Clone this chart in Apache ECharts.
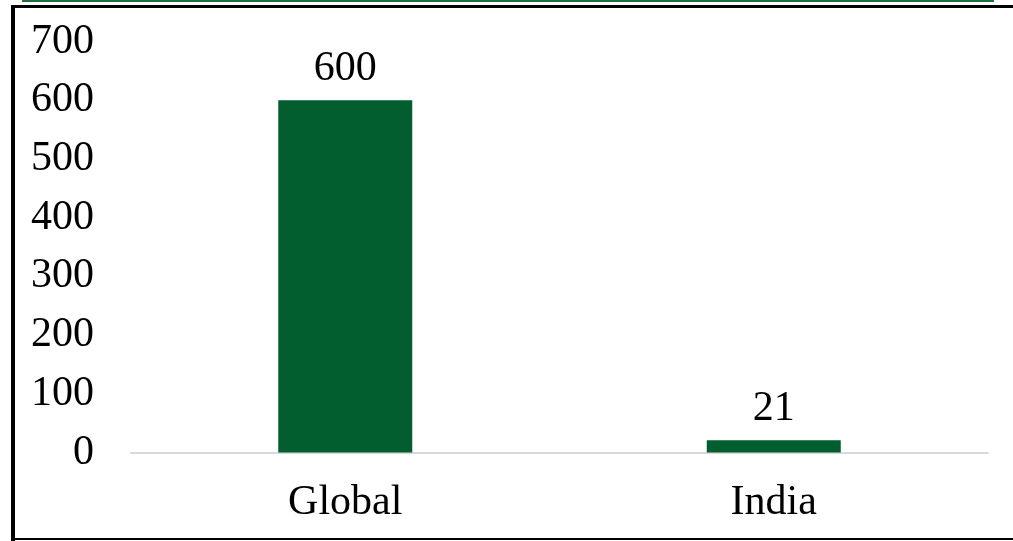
<!DOCTYPE html>
<html>
<head>
<meta charset="utf-8">
<script src="https://cdn.jsdelivr.net/npm/echarts@6/dist/echarts.min.js"></script>
<style>html,body{margin:0;padding:0;background:#fff;}#c{width:1013px;height:541px;}</style>
</head>
<body>
<div id="c"></div>
<script>
const categories = ['Global', 'India'];
const values = [600, 21];
const yTicks = [0, 100, 200, 300, 400, 500, 600, 700];

const chart = echarts.init(document.getElementById('c'), null, {renderer: 'canvas'});
const font = '"Liberation Serif", "Times New Roman", serif';
chart.setOption({
  animation: false,
  backgroundColor: '#fff',
  grid: {left: 131, right: 25, top: 41.5, bottom: 88.5, containLabel: false},
  xAxis: {
    type: 'category',
    data: categories,
    axisLine: {show: true, lineStyle: {color: '#d9d9d9', width: 2}},
    axisTick: {show: false},
    axisLabel: {color: '#000', fontFamily: font, fontSize: 42, margin: 29}
  },
  yAxis: {
    type: 'value',
    min: yTicks[0],
    max: yTicks[yTicks.length - 1],
    interval: 100,
    splitLine: {show: false},
    axisLine: {show: false},
    axisTick: {show: false},
    axisLabel: {color: '#000', fontFamily: font, fontSize: 42, margin: 37}
  },
  series: [{
    type: 'bar',
    data: values,
    barWidth: 134,
    itemStyle: {color: '#025e2e'},
    label: {show: true, position: 'top', distance: 10, color: '#000', fontFamily: font, fontSize: 42}
  }],
  graphic: [
    {type: 'rect', shape: {x: 22, y: 0, width: 972, height: 2}, style: {fill: '#1e6e3c'}, silent: true},
    {type: 'rect', shape: {x: 11, y: 5, width: 1002, height: 3}, style: {fill: '#000'}, silent: true},
    {type: 'rect', shape: {x: 11, y: 5, width: 4, height: 536}, style: {fill: '#000'}, silent: true},
    {type: 'rect', shape: {x: 11, y: 538, width: 1002, height: 2}, style: {fill: '#000'}, silent: true}
  ]
});
</script>
</body>
</html>
